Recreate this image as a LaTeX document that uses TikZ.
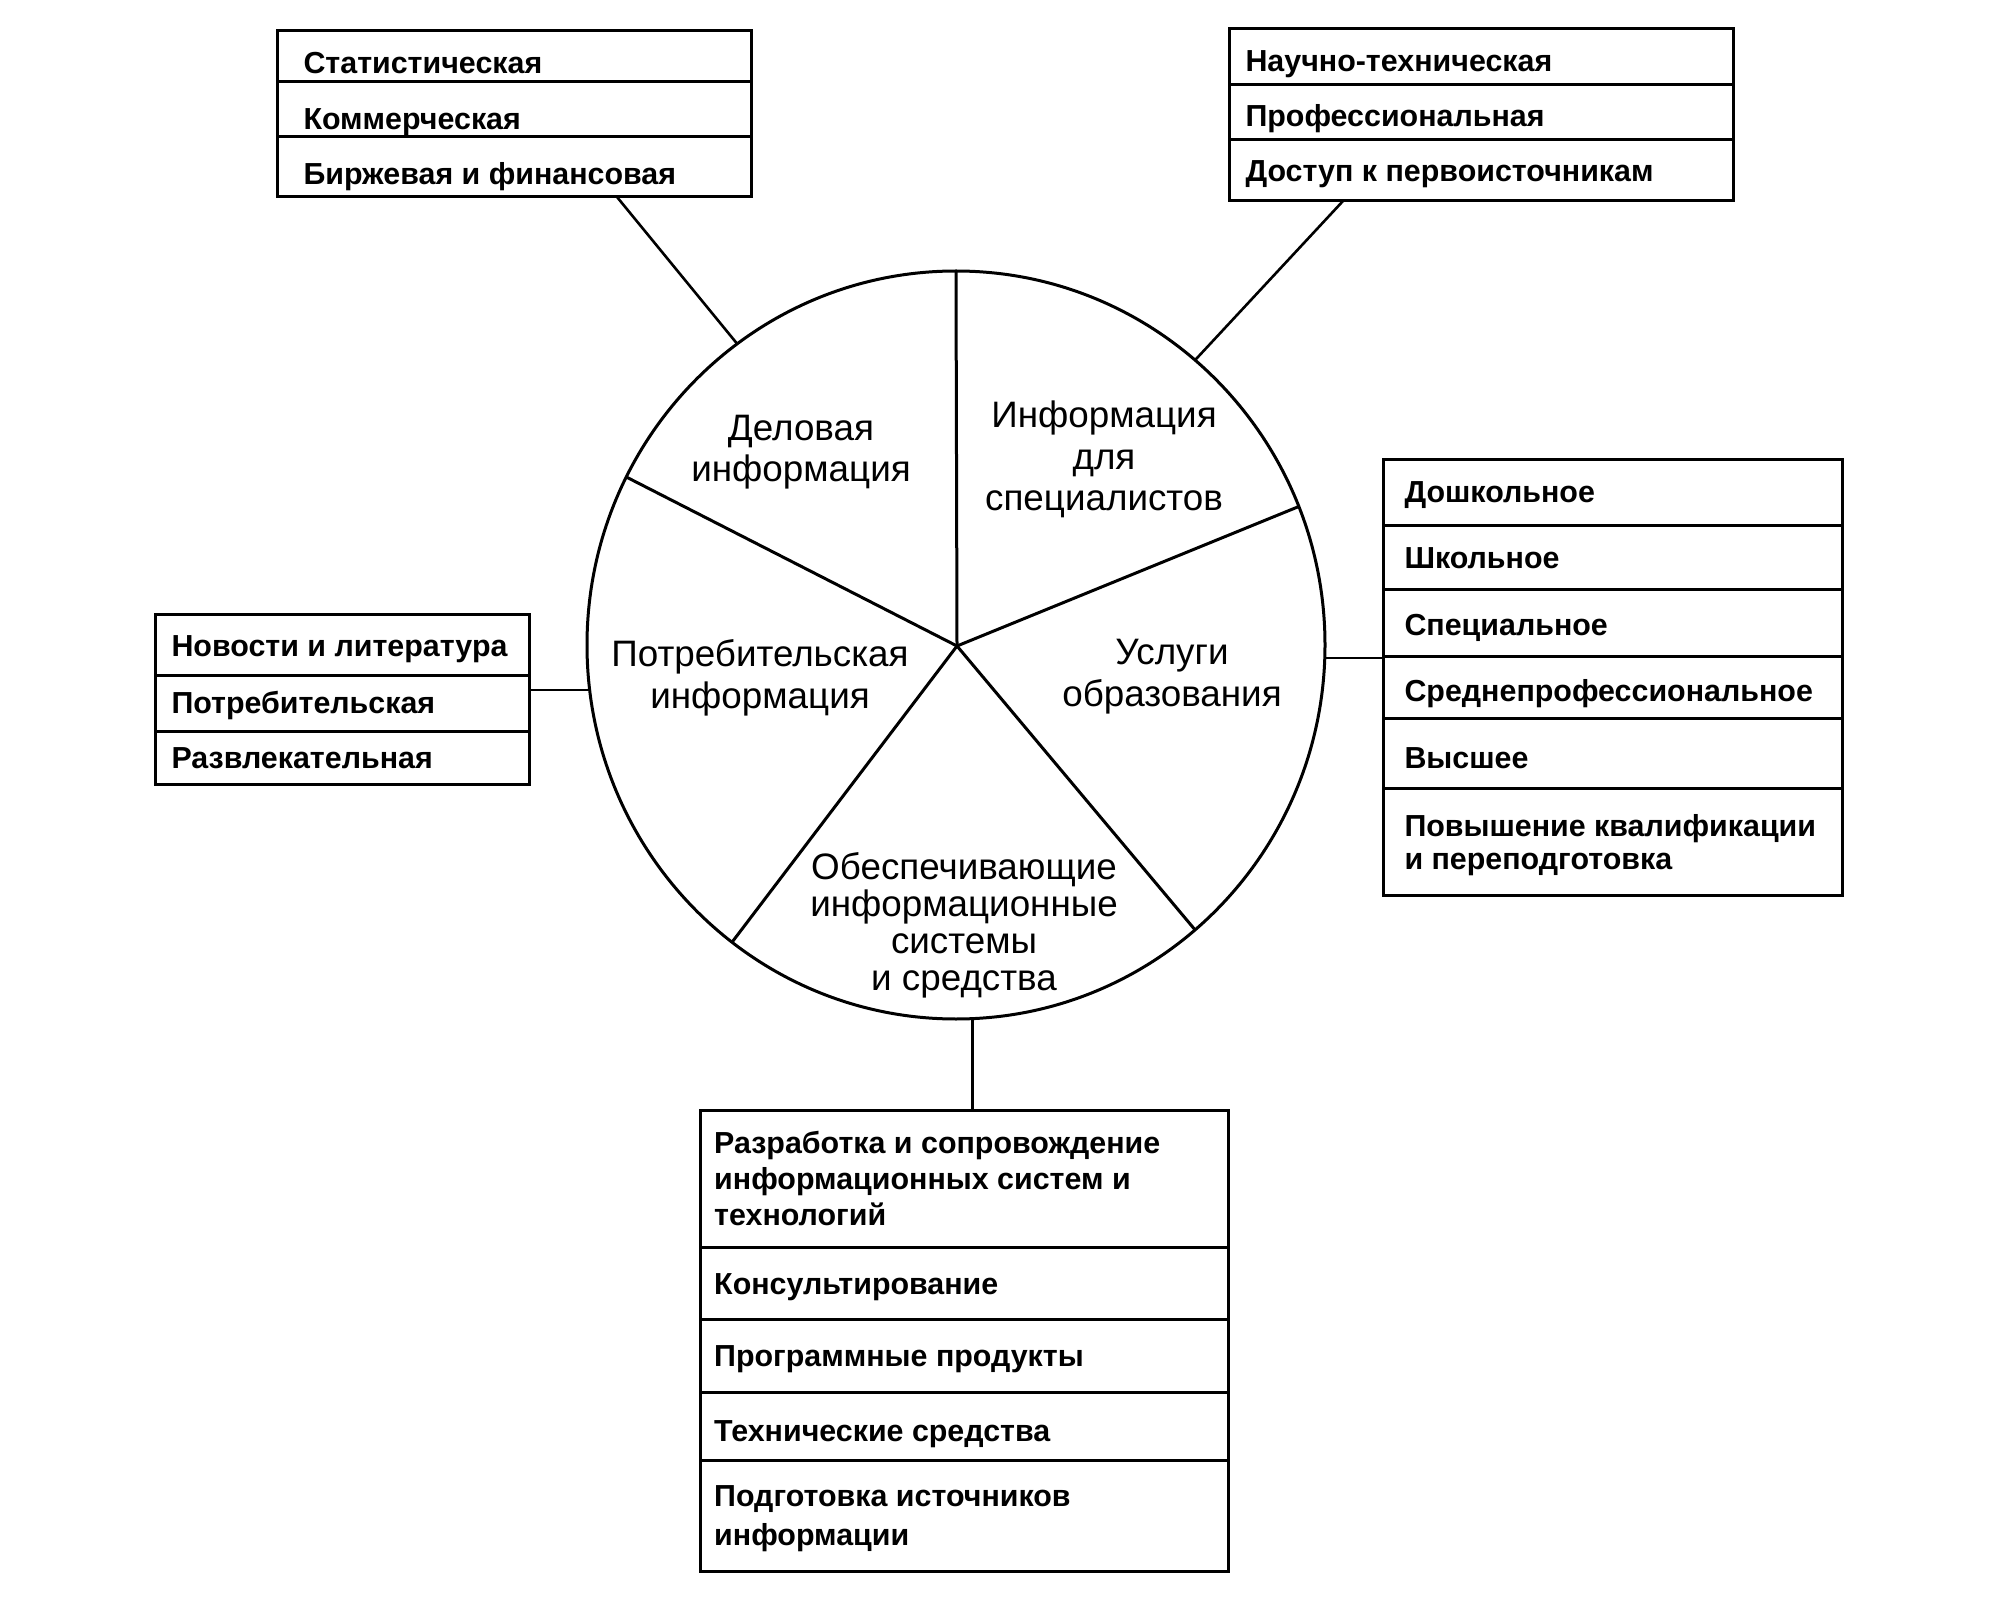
\documentclass[tikz,border=0pt]{standalone}
\usepackage{fontspec}
\setmainfont{Liberation Sans}
\usetikzlibrary{shapes.geometric}
\begin{document}
\begin{tikzpicture}[x=0.5pt,y=-0.5pt,line width=1.5pt,line join=miter,
  frame/.style={draw,rectangle,inner sep=0pt,outer sep=0pt,anchor=north west},
  item/.style={anchor=base west,inner sep=0pt,align=left,
    font=\fontsize{15.2}{17.5}\selectfont\bfseries},
  sector/.style={anchor=base,inner sep=0pt,align=center,
    font=\fontsize{18.4}{20.8}\selectfont},
  link/.style={line width=1.3pt}]
\useasboundingbox (0,0) rectangle (2008,1604);

% pie (anchor=base of a multi-line node = baseline of its last line)
\node[draw,ellipse,inner sep=0pt,outer sep=0pt,minimum width=369pt,minimum height=374pt] (pie) at (956,645) {};
\coordinate (hub) at (957,646);
\draw (hub) -- (pie.90);
\draw (hub) -- (pie.153.2);
\draw (hub) -- (pie.22.6);
\draw (hub) -- (pie.-50);
\draw (hub) -- (pie.233.5);

\node[sector] (s1) at (801,482) {Деловая\\информация};
\node[sector] (s2) at (1104,511) {Информация\\для\\специалистов};
\node[sector] (s3) at (760,708) {Потребительская\\информация};
\node[sector] (s4) at (1172,706) {Услуги\\образования};
\node[sector,font=\fontsize{18.4}{18.5}\selectfont] (s5) at (964,990) {Обеспечивающие\\информационные\\системы\\и средства};

% top-left box
\node[frame,minimum width=237pt,minimum height=83pt] (tl) at (277,31) {};
\draw (tl.west |- 0,82) -- (tl.east |- 0,82);
\draw (tl.west |- 0,137) -- (tl.east |- 0,137);
\node[item] (tl1) at (302,74) {Статистическая};
\node[item] (tl2) at (302,129.5) {Коммерческая};
\node[item] (tl3) at (302,185) {Биржевая и финансовая};
\draw[link] ([xshift=170pt]tl.south west) -- (pie.126.9);

% top-right box
\node[frame,minimum width=252pt,minimum height=86pt] (tr) at (1229,29) {};
\draw (tr.west |- 0,85) -- (tr.east |- 0,85);
\draw (tr.west |- 0,140) -- (tr.east |- 0,140);
\node[item] (tr1) at (1244,71.6) {Научно-техническая};
\node[item] (tr2) at (1244,127) {Профессиональная};
\node[item] (tr3) at (1244,181.6) {Доступ к первоисточникам};
\draw[link] ([xshift=57pt]tr.south west) -- (pie.50.6);

% left box
\node[frame,minimum width=187pt,minimum height=84.5pt] (lb) at (155,615) {};
\draw (lb.west |- 0,675) -- (lb.east |- 0,675);
\draw (lb.west |- 0,731.5) -- (lb.east |- 0,731.5);
\node[item] (lb1) at (170,657) {Новости и литература};
\node[item] (lb2) at (170,713.6) {Потребительская};
\node[item] (lb3) at (170,768.8) {Развлекательная};
\draw[link,line width=1.1pt] (pie.187.8) -- (pie.187.8 -| lb.east);

% right box
\node[frame,minimum width=229.7pt,minimum height=217.5pt] (rb) at (1383.3,460) {};
\foreach \yy in {526,590,656.7,718,788}
  \draw (rb.west |- 0,\yy) -- (rb.east |- 0,\yy);
\node[item] (rb1) at (1403,503) {Дошкольное};
\node[item] (rb2) at (1403,569) {Школьное};
\node[item] (rb3) at (1403,636) {Специальное};
\node[item] (rb4) at (1403,701.7) {Среднепрофессиональное};
\node[item] (rb5) at (1403,768) {Высшее};
\node[item,font=\fontsize{15.2}{16.5}\selectfont\bfseries] (rb6) at (1403,869) {Повышение квалификации\\и переподготовка};
\draw[link,line width=1.1pt] (pie.east |- 0,658) -- (rb.west |- 0,658);

% bottom box
\node[frame,minimum width=264pt,minimum height=230.5pt] (bb) at (700,1110.7) {};
\foreach \yy in {1247,1319,1392,1460.7}
  \draw (bb.west |- 0,\yy) -- (bb.east |- 0,\yy);
\node[item,font=\fontsize{15.2}{18}\selectfont\bfseries] (bb1) at (712.7,1225) {Разработка и сопровождение\\информационных систем и\\технологий};
\node[item] (bb2) at (712.7,1294) {Консультирование};
\node[item] (bb3) at (712.7,1366.7) {Программные продукты};
\node[item] (bb4) at (712.7,1441.7) {Технические средства};
\node[item,font=\fontsize{15.2}{19.5}\selectfont\bfseries] (bb5) at (712.7,1545) {Подготовка источников\\информации};
\draw[link] ([xshift=8.35pt]pie.south) -- ([xshift=8.35pt]pie.south |- bb.north);
\end{tikzpicture}
\end{document}
